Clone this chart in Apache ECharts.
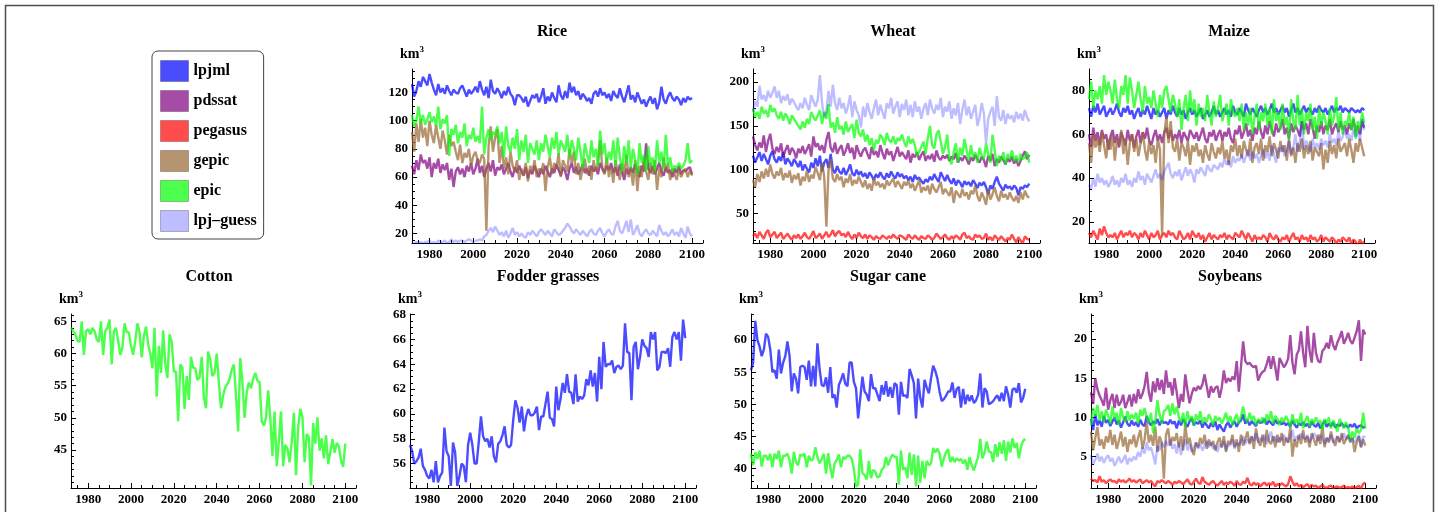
<!DOCTYPE html>
<html>
<head>
<meta charset="utf-8">
<title>Crop water use by model</title>
<script src="https://cdn.jsdelivr.net/npm/echarts@6/dist/echarts.min.js"></script>
<style>
  html, body { margin: 0; padding: 0; background: #fff; }
  #chart { width: 1439px; height: 512px; }
</style>
</head>
<body>
<div id="chart"></div>
<script>
// years run from startYear, one value per year
const startYear = 1972
const xTicks = [1980, 2000, 2020, 2040, 2060, 2080, 2100]

const models = ['lpjml', 'pdssat', 'pegasus', 'gepic', 'epic', 'lpj–guess']
const modelColors = {
  'lpjml': 'rgba(0,0,255,0.7)',
  'pdssat': 'rgba(128,0,128,0.7)',
  'pegasus': 'rgba(255,0,0,0.7)',
  'gepic': 'rgba(153,102,51,0.7)',
  'epic': 'rgba(0,255,0,0.7)',
  'lpj–guess': 'rgba(0,0,255,0.26)',
}

// ---- Rice ----
const riceTicks = [20, 40, 60, 80, 100, 120]
const riceLpjml = [
  126, 117, 121, 128, 124, 131, 128, 125, 133, 127,
  122, 118, 126, 120, 123, 119, 125, 121, 118, 122,
  120, 119, 123, 125, 121, 117, 122, 119, 121, 124,
  120, 128, 122, 118, 124, 116, 129, 121, 119, 123,
  120, 116, 121, 118, 124, 119, 117, 111, 118, 118,
  116, 113, 117, 110, 114, 118, 116, 119, 113, 117,
  123, 112, 117, 114, 120, 116, 113, 125, 118, 115,
  121, 116, 127, 120, 124, 118, 121, 115, 119, 117,
  114, 116, 112, 119, 121, 117, 123, 118, 120, 116,
  119, 114, 121, 118, 116, 123, 117, 113, 119, 125,
  115, 118, 113, 120, 116, 112, 115, 110, 114, 117,
  112, 116, 108, 113, 124, 115, 112, 117, 120, 116,
  114, 117, 115, 111, 116, 113, 117, 115, 116,
]
const ricePdssat = [
  68, 62, 72, 65, 76, 70, 72, 66, 74, 60,
  70, 66, 73, 63, 69, 65, 70, 58, 66, 53,
  64, 67, 62, 66, 60, 68, 64, 70, 62, 66,
  73, 63, 68, 60, 66, 70, 64, 72, 61, 67,
  65, 69, 62, 66, 70, 64, 60, 67, 63, 68,
  64, 61, 67, 59, 65, 62, 68, 64, 60, 66,
  62, 68, 64, 60, 66, 63, 69, 65, 61, 67,
  64, 58, 66, 70, 63, 67, 62, 65, 69, 63,
  66, 61, 68, 64, 67, 62, 70, 66, 63, 68,
  65, 70, 63, 67, 61, 69, 64, 58, 66, 62,
  67, 63, 69, 65, 60, 68, 64, 84, 66, 63,
  68, 62, 66, 70, 64, 61, 67, 63, 65, 60,
  66, 63, 68, 62, 65, 64, 66, 67, 62,
]
const riceGepic = [
  92, 78, 98, 85, 101, 88, 95, 82, 100, 90,
  84, 97, 88, 80, 93, 86, 76, 90, 82, 85,
  78, 72, 83, 70, 77, 74, 80, 68, 75, 78,
  72, 70, 76, 73, 22, 82, 96, 78, 88, 94,
  70, 82, 66, 74, 62, 78, 68, 64, 72, 58,
  66, 62, 70, 57, 68, 64, 72, 60, 66, 63,
  70, 50, 67, 74, 62, 70, 66, 77, 60, 72,
  68, 64, 80, 70, 78, 62, 70, 58, 66, 73,
  62, 68, 58, 72, 64, 70, 86, 66, 62, 74,
  60, 68, 56, 72, 64, 58, 70, 62, 76, 60,
  66, 54, 72, 50, 68, 60, 74, 64, 58, 70,
  62, 72, 51, 66, 60, 74, 64, 70, 58, 66,
  62, 58, 66, 60, 64, 66, 60, 65, 61,
]
const riceEpic = [
  104, 96, 100, 110, 98, 104, 97, 101, 106, 99,
  103, 96, 110, 94, 101, 98, 104, 75, 94, 90,
  97, 84, 92, 88, 98, 82, 90, 87, 95, 85,
  89, 84, 110, 76, 88, 94, 86, 92, 90, 96,
  84, 92, 74, 96, 82, 78, 88, 80, 94, 72,
  86, 78, 90, 70, 84, 80, 76, 86, 72, 84,
  78, 90, 82, 74, 88, 80, 92, 76, 86, 82,
  78, 90, 74, 86, 80, 72, 88, 78, 66, 84,
  76, 70, 86, 74, 80, 68, 93, 76, 84, 70,
  78, 72, 86, 68, 88, 74, 64, 82, 70, 86,
  66, 80, 72, 62, 84, 70, 76, 64, 82, 68,
  74, 64, 86, 70, 78, 66, 90, 68, 74, 64,
  68, 66, 70, 66, 68, 72, 84, 70, 72,
]
const riceLpjGuess = [
  13, 13, 14, 13, 14, 13, 14, 14, 15, 13,
  14, 13, 15, 14, 14, 15, 13, 14, 16, 14,
  15, 14, 15, 15, 14, 15, 16, 15, 14, 15,
  15, 16, 15, 18, 19, 22, 24, 21, 25, 22,
  19, 21, 18, 22, 17, 20, 24, 19, 21, 18,
  20, 18, 17, 21, 19, 22, 20, 18, 21, 23,
  21, 19, 22, 20, 18, 23, 21, 19, 20, 22,
  24, 27, 25, 22, 20, 23, 21, 19, 22, 20,
  18, 21, 23, 20, 19, 22, 24, 20, 18, 21,
  23, 20, 19, 25, 29, 22, 20, 24, 29, 21,
  30, 19, 22, 26, 20, 18, 21, 23, 20, 19,
  22, 20, 18, 26, 22, 19, 21, 18, 20, 23,
  19, 21, 18, 24, 20, 17, 25, 20, 18,
]

// ---- Wheat ----
const wheatTicks = [50, 100, 150, 200]
const wheatLpjml = [
  116, 108, 114, 120, 110, 118, 112, 106, 116, 121,
  112, 108, 115, 110, 120, 106, 113, 109, 104, 112,
  108, 103, 110, 99, 106, 101, 97, 108, 102, 113,
  104, 116, 98, 108, 112, 102, 118, 100, 96, 104,
  98, 95, 102, 94, 99, 106, 96, 93, 100, 94,
  98, 92, 96, 90, 97, 93, 88, 95, 91, 97,
  92, 89, 96, 91, 98, 93, 90, 97, 92, 95,
  90, 93, 88, 92, 86, 94, 89, 91, 87, 84,
  89, 86, 92, 88, 95, 90, 86, 97, 92, 87,
  94, 88, 84, 90, 82, 88, 85, 80, 87, 83,
  86, 81, 88, 84, 79, 85, 82, 86, 80, 72,
  82, 78, 86, 92, 84, 80, 76, 83, 79, 81,
  77, 82, 79, 71, 80, 78, 82, 80, 84,
]
const wheatPdssat = [
  138, 128, 122, 131, 125, 139, 120, 133, 141, 124,
  118, 126, 120, 130, 115, 122, 128, 117, 125, 121,
  113, 124, 119, 127, 118, 123, 129, 115, 138, 126,
  130, 122, 128, 119, 134, 143, 125, 120, 131, 118,
  124, 128, 116, 122, 130, 119, 125, 112, 128, 120,
  115, 122, 125, 118, 112, 126, 117, 121, 114, 128,
  119, 112, 124, 117, 121, 110, 118, 126, 115, 120,
  116, 112, 122, 108, 118, 114, 120, 111, 117, 121,
  110, 116, 112, 118, 109, 122, 114, 111, 116, 113,
  117, 110, 115, 112, 119, 108, 114, 110, 116, 112,
  106, 114, 110, 117, 112, 108, 115, 111, 103, 116,
  110, 118, 104, 112, 108, 115, 111, 106, 113, 109,
  115, 107, 112, 104, 110, 116, 121, 112, 117,
]
const wheatPegasus = [
  24, 27, 22, 29, 25, 21, 28, 31, 23, 26,
  29, 22, 25, 28, 21, 24, 27, 23, 20, 25,
  22, 26, 21, 24, 28, 23, 21, 25, 30, 22,
  24, 27, 21, 25, 29, 23, 26, 31, 24, 28,
  30, 25, 27, 23, 29, 24, 21, 26, 22, 28,
  24, 22, 26, 21, 25, 23, 20, 24, 22, 21,
  25, 23, 21, 24, 22, 26, 23, 21, 25, 24,
  22, 20, 26, 23, 21, 25, 22, 20, 24, 22,
  21, 25, 23, 20, 22, 27, 24, 21, 23, 26,
  22, 20, 24, 21, 25, 23, 20, 26, 28, 22,
  24, 21, 20, 26, 23, 25, 21, 22, 27, 20,
  23, 19, 25, 22, 20, 24, 21, 18, 22, 20,
  26, 21, 17, 23, 19, 16, 24, 21, 20,
]
const wheatGepic = [
  88, 80, 95, 86, 98, 90, 101, 92, 106, 95,
  90, 98, 93, 102, 88, 96, 91, 99, 85, 94,
  89, 96, 82, 92, 87, 99, 86, 94, 90, 103,
  96, 88, 108, 92, 35, 100, 112, 90, 86, 95,
  88, 92, 80, 90, 85, 95, 82, 88, 84, 92,
  86, 80, 88, 78, 84, 76, 90, 82, 86, 80,
  84, 78, 88, 82, 86, 90, 80, 87, 83, 78,
  86, 82, 88, 79, 84, 76, 82, 88, 74, 80,
  76, 82, 72, 84, 78, 74, 80, 86, 72, 78,
  74, 70, 80, 62, 76, 72, 68, 78, 70, 74,
  66, 76, 72, 82, 70, 64, 74, 68, 60, 78,
  66, 72, 80, 70, 64, 76, 68, 72, 66, 74,
  68, 64, 70, 62, 74, 66, 76, 70, 68,
]
const wheatEpic = [
  170, 160, 166, 158, 172, 164, 168, 160, 174, 166,
  170, 162, 158, 166, 156, 164, 160, 152, 162, 158,
  154, 150, 146, 155, 148, 158, 152, 166, 160, 156,
  162, 168, 152, 166, 158, 175, 148, 154, 142, 160,
  146, 150, 140, 155, 143, 148, 152, 136, 157, 142,
  138, 146, 132, 140, 128, 136, 122, 134, 130, 140,
  136, 128, 142, 134, 131, 138, 129, 136, 133, 140,
  132, 126, 138, 130, 135, 128, 116, 120, 126, 132,
  118, 136, 150, 128, 124, 140, 145, 132, 118, 126,
  140, 112, 106, 120, 130, 108, 125, 116, 135, 122,
  110, 128, 114, 120, 108, 125, 116, 112, 130, 118,
  108, 140, 122, 104, 116, 110, 120, 106, 118, 112,
  122, 110, 116, 108, 118, 112, 114, 120, 108,
]
const wheatLpjGuess = [
  166, 178, 172, 196, 180, 185, 178, 190, 182, 188,
  195, 182, 190, 176, 184, 179, 186, 174, 181, 177,
  172, 168, 176, 170, 182, 174, 168, 185, 178, 172,
  180, 208, 176, 160, 166, 190, 172, 197, 176, 168,
  182, 170, 176, 164, 172, 185, 160, 178, 168, 162,
  148, 172, 160, 176, 166, 158, 170, 180, 162, 174,
  166, 158, 176, 170, 182, 164, 172, 178, 160, 175,
  168, 180, 162, 174, 160, 178, 166, 172, 158, 170,
  176, 162, 180, 170, 164, 174, 168, 182, 160, 172,
  166, 178, 158, 170, 162, 176, 152, 168, 180, 162,
  172, 158, 166, 174, 150, 160, 176, 164, 130, 158,
  166, 172, 150, 184, 160, 156, 168, 152, 164, 158,
  162, 154, 166, 158, 164, 156, 168, 160, 155,
]

// ---- Maize ----
const maizeTicks = [20, 40, 60, 80]
const maizeLpjml = [
  72, 68, 73, 70, 74, 69, 71, 73, 68, 70,
  72, 69, 71, 74, 70, 68, 72, 70, 73, 69,
  71, 67, 70, 72, 68, 71, 69, 73, 70, 67,
  72, 69, 71, 68, 70, 72, 67, 71, 69, 73,
  70, 68, 72, 69, 71, 67, 70, 72, 69, 71,
  68, 70, 72, 67, 69, 71, 68, 70, 73, 69,
  71, 68, 70, 72, 69, 71, 68, 73, 70, 69,
  72, 70, 68, 74, 71, 69, 72, 70, 68, 71,
  73, 70, 72, 69, 71, 74, 70, 72, 69, 71,
  73, 70, 72, 68, 71, 74, 70, 72, 69, 71,
  73, 70, 72, 71, 69, 72, 70, 73, 71, 70,
  72, 69, 71, 73, 70, 72, 71, 73, 70, 72,
  71, 70, 72, 71, 70, 71, 70, 72, 71,
]
const maizePdssat = [
  60, 54, 63, 57, 61, 55, 62, 58, 60, 53,
  59, 62, 56, 60, 54, 61, 58, 55, 62, 57,
  60, 54, 59, 62, 56, 61, 58, 63, 57, 55,
  59, 62, 57, 60, 56, 61, 63, 58, 62, 57,
  60, 58, 62, 56, 61, 59, 57, 62, 60, 58,
  61, 57, 60, 63, 58, 56, 61, 59, 62, 57,
  60, 62, 57, 61, 59, 63, 58, 56, 62, 60,
  64, 58, 61, 65, 59, 62, 57, 63, 60, 66,
  61, 58, 64, 60, 66, 62, 59, 65, 61, 63,
  67, 60, 63, 58, 65, 61, 64, 62, 59, 66,
  62, 65, 60, 67, 63, 58, 64, 61, 66, 60,
  64, 62, 67, 60, 63, 65, 61, 66, 62, 64,
  60, 65, 62, 67, 61, 64, 60, 66, 63,
]
const maizePegasus = [
  15, 13, 16, 14, 12, 17, 14, 18, 15, 13,
  14, 13, 15, 12, 14, 16, 13, 15, 14, 16,
  13, 15, 14, 12, 15, 13, 16, 14, 12, 15,
  13, 14, 16, 12, 14, 15, 13, 16, 14, 15,
  13, 12, 16, 14, 12, 13, 15, 12, 16, 14,
  13, 15, 12, 14, 11, 13, 15, 12, 14, 13,
  12, 14, 13, 15, 12, 14, 13, 12, 15, 14,
  13, 16, 14, 12, 15, 13, 11, 14, 12, 13,
  12, 14, 13, 11, 15, 13, 12, 14, 12, 11,
  13, 12, 14, 11, 13, 15, 12, 13, 11, 14,
  12, 13, 11, 14, 12, 13, 11, 12, 14, 11,
  13, 12, 11, 13, 12, 10, 12, 11, 13, 12,
  11, 13, 10, 12, 11, 9, 12, 10, 11,
]
const maizeGepic = [
  56, 47, 60, 54, 58, 52, 61, 55, 49, 58,
  53, 60, 48, 57, 55, 62, 51, 58, 46, 56,
  60, 52, 58, 50, 56, 61, 53, 48, 57, 51,
  55, 47, 58, 53, 14, 60, 68, 56, 66, 54,
  52, 58, 48, 56, 54, 50, 57, 46, 55, 52,
  56, 50, 53, 47, 55, 51, 48, 56, 52, 49,
  54, 51, 57, 49, 53, 46, 55, 52, 58, 50,
  55, 49, 57, 53, 50, 58, 47, 54, 56, 51,
  58, 48, 55, 52, 59, 50, 56, 53, 49, 57,
  52, 55, 48, 58, 50, 54, 47, 56, 52, 58,
  49, 55, 51, 57, 48, 54, 52, 50, 56, 44,
  53, 47, 57, 51, 55, 49, 58, 52, 54, 56,
  50, 58, 53, 47, 56, 52, 58, 54, 50,
]
const maizeEpic = [
  76, 84, 72, 80, 76, 82, 74, 87, 78, 84,
  80, 74, 85, 76, 72, 82, 78, 87, 74, 86,
  80, 72, 78, 84, 76, 70, 82, 74, 77, 72,
  80, 74, 68, 78, 72, 80, 82, 76, 70, 78,
  74, 68, 76, 62, 72, 78, 66, 80, 70, 76,
  64, 74, 68, 72, 66, 78, 70, 64, 75, 68,
  72, 78, 66, 70, 74, 64, 76, 70, 68, 72,
  66, 74, 62, 70, 64, 72, 60, 68, 74, 62,
  70, 66, 74, 64, 72, 60, 76, 66, 70, 62,
  74, 64, 68, 58, 76, 66, 62, 78, 64, 72,
  60, 70, 66, 74, 62, 68, 58, 72, 64, 70,
  66, 60, 72, 64, 68, 77, 62, 70, 60, 66,
  64, 70, 62, 68, 58, 66, 62, 70, 65,
]
const maizeLpjGuess = [
  37, 35, 40, 36, 42, 38, 40, 37, 39, 36,
  38, 41, 37, 39, 36, 40, 38, 42, 37, 39,
  36, 40, 38, 43, 39, 41, 37, 42, 40, 38,
  41, 44, 40, 42, 39, 43, 45, 47, 42, 40,
  43, 41, 44, 39, 42, 45, 41, 44, 42, 38,
  44, 42, 45, 43, 41, 46, 44, 43, 46, 45,
  44, 47, 45, 49, 46, 48, 45, 50, 47, 49,
  48, 51, 47, 50, 53, 48, 52, 49, 51, 47,
  50, 53, 49, 52, 48, 55, 51, 47, 54, 52,
  55, 50, 53, 57, 51, 54, 60, 52, 56, 66,
  53, 57, 55, 52, 58, 54, 56, 53, 58, 55,
  57, 54, 60, 56, 58, 55, 61, 57, 59, 62,
  58, 60, 57, 62, 59, 61, 57, 67, 62,
]

// ---- Cotton ----
const cottonTicks = [45, 50, 55, 60, 65]
const cottonEpic = [
  64.0, 63.5, 63.0, 62.0, 61.8, 65.0, 59.8, 63.5, 63.8, 63.0,
  64.0, 63.5, 62.2, 61.8, 65.0, 59.8, 63.5, 64.0, 65.3, 58.3,
  63.5, 64.0, 62.0, 59.8, 61.0, 64.7, 63.3, 63.3, 61.2, 59.8,
  62.0, 64.7, 63.3, 59.4, 62.7, 64.2, 61.5, 60.0, 57.7, 64.0,
  53.3, 61.2, 57.0, 63.6, 58.4, 56.2, 63.0, 61.8, 57.2, 57.2,
  49.5, 58.3, 57.8, 51.4, 56.5, 52.8, 59.5, 57.8, 57.7, 55.9,
  56.3, 59.5, 53.2, 51.5, 60.3, 59.0, 56.5, 57.0, 60.0, 55.5,
  51.5, 53.5, 54.7, 55.3, 56.0, 57.5, 58.3, 53.5, 47.9, 59.3,
  55.5, 50.0, 54.0, 55.5, 54.6, 56.0, 57.0, 55.8, 55.5, 49.5,
  48.8, 50.0, 54.3, 50.0, 44.1, 51.0, 42.5, 46.4, 51.0, 42.5,
  45.8, 45.2, 43.1, 46.2, 50.8, 41.1, 48.5, 51.4, 50.2, 43.1,
  47.5, 47.0, 39.5, 49.2, 46.0, 50.1, 44.9, 46.8, 43.7, 47.3,
  42.8, 44.7, 46.7, 44.6, 46.1, 45.6, 43.4, 42.4, 46.0,
]

// ---- Fodder grasses ----
const fodderTicks = [56, 58, 60, 62, 64, 66, 68]
const fodderLpjml = [
  57.5, 57.0, 56.0, 56.2, 56.5, 57.2, 55.8, 55.5, 55.0, 54.8,
  55.5, 54.5, 56.2, 54.5, 55.0, 55.3, 58.9, 57.0, 56.6, 54.2,
  57.7, 56.9, 54.2, 55.0, 56.0, 55.8, 54.5, 57.5, 58.5, 57.5,
  56.0, 56.0, 57.8, 59.8, 58.2, 57.8, 58.0, 57.3, 58.2, 56.6,
  56.1, 57.6, 57.8, 58.3, 59.0, 57.5, 57.3, 57.5, 59.5, 61.1,
  60.5, 59.3, 60.6, 58.6, 59.8, 60.4, 59.9, 59.9, 60.1, 60.6,
  58.7, 59.8, 59.8, 60.8, 61.8, 59.7, 59.6, 59.0, 62.2, 60.3,
  61.2, 62.5, 61.7, 63.2, 61.8, 61.7, 60.8, 63.2, 61.0, 61.4,
  61.2, 61.5, 62.8, 62.3, 63.5, 62.2, 63.3, 61.0, 64.6, 62.0,
  65.8, 63.8, 64.0, 64.0, 64.3, 63.3, 63.8, 63.9, 63.6, 63.9,
  67.3, 65.0, 64.9, 61.1, 65.4, 65.8, 63.6, 64.6, 66.0, 65.5,
  65.3, 64.6, 66.6, 66.0, 66.6, 63.5, 63.8, 65.0, 65.0, 64.9,
  65.3, 63.8, 66.2, 66.6, 66.0, 66.6, 64.3, 67.6, 66.1,
]

// ---- Sugar cane ----
const sugarTicks = [40, 45, 50, 55, 60]
const sugarLpjml = [
  55.3, 56.5, 63.0, 60.0, 59.0, 57.5, 58.5, 61.0, 60.5, 58.5,
  55.0, 55.3, 54.0, 58.5, 54.8, 56.5, 57.5, 59.8, 57.5, 52.0,
  54.8, 54.0, 51.7, 55.8, 56.0, 55.8, 53.8, 56.8, 52.8, 56.0,
  52.8, 59.5, 55.5, 53.0, 52.8, 54.2, 51.8, 55.8, 51.0, 51.5,
  49.5, 53.0, 53.8, 54.8, 53.2, 52.8, 56.5, 56.5, 53.5, 52.5,
  47.8, 51.0, 54.3, 52.0, 51.5, 50.5, 54.7, 52.5, 52.5, 51.5,
  50.5, 53.0, 51.5, 53.6, 51.2, 52.7, 51.0, 53.3, 53.0, 48.4,
  53.5, 51.3, 51.4, 51.0, 55.5, 54.5, 53.3, 47.8, 54.0, 51.0,
  49.5, 53.8, 52.6, 51.7, 54.0, 56.0, 55.2, 54.0, 52.0, 50.5,
  50.8, 51.3, 52.0, 52.0, 53.4, 51.0, 52.4, 52.7, 49.5, 52.4,
  50.0, 51.5, 50.5, 51.4, 50.2, 50.6, 51.5, 54.8, 49.5, 52.5,
  52.0, 50.0, 50.2, 50.5, 51.0, 51.4, 50.5, 51.8, 50.5, 52.8,
  51.5, 49.5, 52.3, 52.5, 51.8, 53.3, 50.3, 51.0, 52.4,
]
const sugarEpic = [
  42.3, 40.5, 42.5, 41.5, 42.8, 40.3, 42.0, 42.0, 41.3, 42.3,
  40.2, 42.3, 41.5, 42.8, 40.2, 42.0, 42.0, 42.3, 41.3, 39.2,
  42.6, 41.0, 40.5, 42.2, 42.0, 42.3, 40.2, 42.0, 41.2, 41.5,
  43.3, 41.8, 40.8, 41.5, 42.3, 39.2, 42.4, 40.2, 38.5, 40.8,
  41.3, 42.2, 40.2, 41.8, 41.5, 42.0, 42.0, 41.5, 40.0, 37.2,
  37.5, 43.0, 39.3, 39.0, 38.3, 41.2, 38.5, 39.8, 39.5, 38.6,
  38.8, 39.8, 40.2, 41.8, 40.5, 41.5, 42.2, 41.8, 41.8, 37.5,
  42.8, 39.8, 40.2, 38.5, 42.5, 39.0, 42.2, 37.2, 42.0, 37.8,
  41.2, 38.5, 41.2, 40.5, 40.8, 43.2, 42.5, 43.1, 42.3, 40.3,
  41.6, 42.5, 43.0, 41.0, 41.8, 41.0, 41.6, 41.2, 41.5, 40.8,
  41.4, 39.8, 41.8, 40.5, 39.7, 40.8, 41.8, 44.6, 41.6, 42.5,
  44.2, 42.6, 42.6, 41.0, 43.8, 41.8, 44.1, 42.3, 44.4, 41.2,
  44.2, 42.5, 44.7, 43.2, 44.0, 41.6, 43.4, 44.3, 44.6,
]

// ---- Soybeans ----
const soyTicks = [5, 10, 15, 20]
const soyLpjml = [
  9.8, 8.4, 10.4, 9.0, 9.6, 8.8, 10.2, 9.3, 9.7, 8.9,
  9.5, 10.0, 9.1, 9.6, 8.7, 9.4, 10.1, 9.2, 8.9, 9.6,
  9.0, 9.4, 8.8, 9.7, 9.1, 8.9, 10.2, 9.4, 9.0, 9.5,
  9.2, 9.8, 9.0, 9.6, 9.3, 9.4, 9.1, 9.7, 9.2, 9.5,
  8.6, 9.6, 9.0, 9.8, 9.3, 8.8, 9.5, 9.9, 9.0, 9.4,
  9.2, 9.6, 8.7, 9.4, 9.0, 8.6, 9.3, 8.8, 9.5, 8.4,
  9.1, 8.6, 8.2, 9.0, 9.4, 8.7, 9.2, 9.5, 8.8, 9.4,
  9.6, 10.4, 9.2, 9.7, 9.0, 9.5, 9.2, 8.9, 9.6, 9.3,
  9.4, 9.8, 9.1, 9.6, 9.3, 9.0, 9.7, 9.2, 9.5, 9.1,
  9.4, 9.0, 9.3, 8.8, 9.6, 9.1, 8.7, 9.3, 9.0, 9.4,
  8.9, 9.2, 8.7, 9.5, 9.0, 8.8, 9.3, 8.6, 9.1, 9.6,
  8.8, 9.2, 8.9, 9.4, 8.7, 9.1, 8.9, 9.3, 8.8, 9.0,
  8.7, 9.1, 8.8, 9.2, 8.6, 8.9, 9.0, 8.7, 8.8,
]
const soyPdssat = [
  13.2, 11.7, 15.0, 13.6, 12.8, 12.2, 11.5, 13.8, 11.0, 12.2,
  13.0, 11.2, 12.9, 11.5, 12.0, 12.9, 11.2, 12.0, 12.9, 11.4,
  13.0, 11.8, 13.6, 12.4, 13.0, 14.0, 15.8, 13.2, 12.0, 14.6,
  13.2, 15.0, 13.5, 14.8, 13.0, 16.0, 13.8, 14.5, 12.8, 15.0,
  13.2, 11.2, 13.0, 12.0, 15.5, 13.5, 11.8, 13.0, 13.8, 13.4,
  14.0, 13.6, 14.2, 15.5, 14.0, 12.5, 14.0, 13.2, 13.8, 14.0,
  12.5, 13.8, 16.0, 14.4, 15.0, 14.6, 15.2, 14.8, 17.2, 13.3,
  16.5, 19.7, 17.2, 16.8, 17.0, 16.6, 16.4, 16.6, 14.7, 15.4,
  15.8, 16.0, 16.8, 17.8, 16.2, 17.8, 16.4, 14.7, 17.6, 17.0,
  16.4, 16.8, 17.5, 20.5, 17.0, 15.5, 18.0, 18.6, 21.0, 18.2,
  16.4, 21.7, 18.5, 17.0, 20.8, 18.2, 17.2, 17.0, 18.5, 18.8,
  19.5, 18.8, 20.5, 19.2, 18.6, 19.6, 20.2, 21.0, 19.4, 20.0,
  20.8, 19.8, 19.4, 20.2, 21.0, 22.4, 17.2, 21.2, 20.6,
]
const soyPegasus = [
  2.2, 1.9, 2.0, 1.7, 2.5, 1.8, 2.0, 1.6, 1.9, 2.1,
  1.8, 1.9, 1.6, 2.1, 1.8, 2.0, 1.7, 1.9, 2.2, 1.8,
  2.0, 1.7, 1.9, 2.1, 1.6, 1.8, 2.0, 1.7, 1.9, 1.5,
  1.2, 1.9, 1.7, 2.0, 1.8, 1.6, 1.9, 1.7, 1.4, 1.8,
  1.6, 1.9, 1.7, 1.5, 1.8, 2.1, 1.6, 1.4, 1.8, 2.2,
  1.7, 1.5, 2.4, 1.8, 1.6, 1.4, 1.7, 1.9, 1.5, 1.3,
  1.6, 1.9, 1.4, 1.7, 1.5, 1.8, 1.6, 1.3, 1.9, 1.5,
  1.4, 1.8, 1.6, 2.3, 1.5, 1.3, 1.7, 1.4, 1.6, 1.2,
  1.5, 1.7, 1.3, 1.6, 1.4, 1.8, 1.2, 1.5, 1.3, 1.6,
  1.4, 1.2, 1.5, 2.5, 1.8, 1.3, 1.6, 1.2, 1.4, 1.1,
  1.3, 1.5, 1.1, 1.4, 1.2, 1.3, 1.0, 1.2, 1.4, 1.1,
  1.0, 1.2, 1.3, 1.0, 1.1, 1.2, 1.0, 1.1, 1.3, 1.0,
  1.1, 1.0, 1.2, 1.0, 1.1, 1.3, 0.9, 1.5, 1.7,
]
const soyGepic = [
  8.2, 5.8, 7.4, 8.8, 6.4, 7.2, 6.0, 7.6, 6.8, 8.4,
  6.5, 7.8, 6.0, 7.0, 8.2, 6.3, 7.5, 5.6, 7.2, 6.6,
  7.8, 6.2, 7.4, 8.4, 6.0, 7.2, 9.5, 6.8, 7.8, 6.4,
  8.8, 5.6, 7.6, 6.8, 2.2, 7.8, 8.6, 6.4, 7.5, 7.0,
  8.0, 6.2, 7.6, 5.8, 9.2, 6.6, 7.4, 6.0, 5.2, 6.8,
  6.2, 7.4, 6.6, 7.8, 6.0, 7.2, 6.4, 7.0, 5.8, 6.8,
  7.4, 6.2, 7.6, 5.6, 7.0, 6.6, 7.8, 6.2, 7.2, 5.6,
  7.8, 6.4, 7.2, 8.2, 6.6, 7.6, 6.0, 8.6, 7.0, 6.4,
  7.8, 6.2, 8.4, 7.0, 6.6, 7.6, 6.2, 7.8, 6.8, 8.0,
  6.4, 7.4, 6.8, 8.8, 5.0, 7.2, 6.2, 7.8, 6.6, 8.4,
  6.8, 7.6, 6.2, 8.0, 7.2, 6.4, 7.8, 6.6, 9.0, 6.2,
  7.4, 6.8, 8.2, 7.0, 6.4, 7.6, 6.8, 8.0, 6.6, 7.2,
  7.8, 6.8, 7.4, 5.6, 6.8, 7.6, 6.2, 7.2, 6.4,
]
const soyEpic = [
  9.0, 11.2, 10.2, 11.6, 9.6, 10.8, 9.4, 11.0, 10.2, 9.2,
  11.4, 9.8, 10.6, 9.0, 11.2, 10.0, 9.4, 10.8, 9.6, 10.4,
  9.8, 10.6, 9.2, 11.0, 10.2, 11.2, 10.0, 9.4, 10.6, 8.0,
  9.6, 12.2, 10.4, 9.2, 10.8, 11.0, 11.6, 10.2, 11.8, 10.4,
  11.4, 10.0, 9.4, 10.6, 8.8, 10.8, 9.6, 10.2, 9.0, 10.4,
  9.6, 10.8, 9.2, 10.0, 9.4, 10.4, 9.8, 9.0, 10.2, 9.6,
  10.0, 9.2, 9.8, 10.6, 9.4, 10.2, 9.0, 9.8, 10.4, 9.2,
  10.2, 11.4, 10.0, 9.4, 10.6, 9.6, 10.2, 9.0, 9.8, 9.4,
  10.0, 9.2, 10.4, 9.6, 10.8, 9.2, 10.2, 9.8, 9.0, 10.0,
  9.4, 10.2, 9.6, 8.8, 10.4, 9.2, 9.8, 9.0, 10.6, 8.6,
  9.6, 10.2, 8.8, 9.8, 9.2, 10.0, 9.4, 9.6, 8.4, 9.8,
  9.2, 10.0, 8.6, 9.6, 9.0, 8.2, 9.8, 9.2, 8.6, 9.4,
  8.8, 7.0, 8.2, 7.4, 8.6, 8.0, 8.4, 10.6, 8.6,
]
const soyLpjGuess = [
  5.2, 4.0, 4.6, 5.4, 4.4, 5.0, 4.2, 4.8, 5.2, 4.4,
  4.8, 3.8, 4.4, 5.0, 4.2, 4.6, 5.2, 4.0, 4.8, 4.4,
  5.0, 4.6, 5.6, 5.0, 6.2, 5.4, 6.8, 5.8, 6.2, 5.2,
  4.0, 6.4, 5.8, 6.8, 6.2, 7.0, 6.4, 7.2, 6.0, 6.6,
  5.4, 6.8, 5.2, 6.4, 7.2, 5.8, 6.6, 5.6, 6.2, 6.8,
  6.0, 6.6, 5.8, 6.4, 7.0, 6.2, 6.8, 6.0, 6.4, 5.6,
  6.6, 6.2, 7.0, 5.8, 6.6, 6.4, 7.2, 6.0, 6.8, 6.4,
  7.0, 7.6, 6.6, 7.2, 6.8, 7.6, 7.0, 8.0, 6.8, 7.4,
  7.0, 7.8, 6.6, 7.4, 8.2, 7.0, 7.6, 6.8, 7.4, 7.0,
  7.8, 7.2, 6.8, 7.6, 8.4, 7.0, 7.6, 7.2, 8.0, 7.4,
  7.2, 7.8, 6.8, 7.4, 8.0, 7.6, 7.0, 7.8, 7.2, 6.6,
  7.4, 7.0, 7.8, 6.8, 7.2, 7.6, 7.0, 7.4, 8.0, 7.2,
  7.6, 7.0, 7.4, 6.8, 7.2, 7.8, 6.2, 7.6, 7.4,
]

// panel layout: grid box in pixels, y range, tick sets
const panels = [
  { title: 'Rice', tx: 552, ty: 32, left: 412, top: 69, width: 291,
    yMin: 13.3, yMax: 136.6, ticks: riceTicks, minor: 5,
    series: [['lpjml', riceLpjml], ['pdssat', ricePdssat], ['gepic', riceGepic], ['epic', riceEpic], ['lpj–guess', riceLpjGuess]] },
  { title: 'Wheat', tx: 893, ty: 32, left: 753, top: 69, width: 287,
    yMin: 16.3, yMax: 214.9, ticks: wheatTicks, minor: 10,
    series: [['lpjml', wheatLpjml], ['pdssat', wheatPdssat], ['pegasus', wheatPegasus], ['gepic', wheatGepic], ['epic', wheatEpic], ['lpj–guess', wheatLpjGuess]] },
  { title: 'Maize', tx: 1229, ty: 32, left: 1089, top: 69, width: 286,
    yMin: 10.4, yMax: 89.8, ticks: maizeTicks, minor: 5,
    series: [['lpjml', maizeLpjml], ['pdssat', maizePdssat], ['pegasus', maizePegasus], ['gepic', maizeGepic], ['epic', maizeEpic], ['lpj–guess', maizeLpjGuess]] },
  { title: 'Cotton', tx: 209, ty: 277, left: 71, top: 314, width: 285,
    yMin: 39.1, yMax: 66.15, ticks: cottonTicks, minor: 1,
    series: [['epic', cottonEpic]] },
  { title: 'Fodder grasses', tx: 548, ty: 277, left: 410, top: 314, width: 286,
    yMin: 54.04, yMax: 68.05, ticks: fodderTicks, minor: 0.5,
    series: [['lpjml', fodderLpjml]] },
  { title: 'Sugar cane', tx: 888, ty: 277, left: 751, top: 314, width: 285,
    yMin: 36.97, yMax: 64.06, ticks: sugarTicks, minor: 1,
    series: [['lpjml', sugarLpjml], ['epic', sugarEpic]] },
  { title: 'Soybeans', tx: 1230, ty: 277, left: 1091, top: 314, width: 285,
    yMin: 1.0, yMax: 23.2, ticks: soyTicks, minor: 1,
    series: [['lpjml', soyLpjml], ['pdssat', soyPdssat], ['pegasus', soyPegasus], ['gepic', soyGepic], ['epic', soyEpic], ['lpj–guess', soyLpjGuess]] },
]

const xMin = 1972
const xMax = 2105
const plotHeight = 174
const labelFont = { fontFamily: 'Liberation Serif', fontWeight: 'bold', fontSize: 13, color: '#000' }

function stepsBetween(lo, hi, step) {
  const out = []
  const first = Math.ceil(lo / step - 1e-9) * step
  for (let v = first; v <= hi + 1e-9; v += step) out.push(+v.toFixed(4))
  return out
}

const chart = echarts.init(document.getElementById('chart'))

const grids = []
const xAxes = []
const yAxes = []
const series = []
const graphics = [
  { type: 'rect', shape: { x: 5.5, y: 5.5, width: 1428, height: 530 },
    style: { fill: 'none', stroke: '#4d4d4d', lineWidth: 1.5 }, silent: true },
]

panels.forEach((p, i) => {
  grids.push({ left: p.left, top: p.top, width: p.width, height: plotHeight, outerBoundsMode: 'none' })

  // major x axis
  xAxes.push({
    gridIndex: i, type: 'value', min: xMin, max: xMax, position: 'bottom',
    axisLine: { onZero: false, lineStyle: { color: '#000', width: 1 } },
    axisTick: { inside: true, length: 5, customValues: xTicks, lineStyle: { color: '#000' } },
    axisLabel: { customValues: xTicks, margin: 5, formatter: (v) => String(v), ...labelFont },
    splitLine: { show: false },
  })
  // minor x ticks
  xAxes.push({
    gridIndex: i, type: 'value', min: xMin, max: xMax, position: 'bottom',
    axisLine: { show: false },
    axisTick: { inside: true, length: 3, customValues: stepsBetween(xMin, xMax, 5), lineStyle: { color: '#000' } },
    axisLabel: { show: false }, splitLine: { show: false },
  })
  // major y axis
  yAxes.push({
    gridIndex: i, type: 'value', min: p.yMin, max: p.yMax, position: 'left',
    name: '{u|km}{s|3}', nameLocation: 'end', nameGap: 8,
    nameTextStyle: {
      align: 'center',
      rich: {
        u: { fontFamily: 'Liberation Serif', fontWeight: 'bold', fontSize: 14, color: '#000', lineHeight: 16, verticalAlign: 'bottom' },
        s: { fontFamily: 'Liberation Serif', fontWeight: 'bold', fontSize: 9, color: '#000', lineHeight: 16, verticalAlign: 'top' },
      },
    },
    axisLine: { show: true, onZero: false, lineStyle: { color: '#000', width: 1 } },
    axisTick: { show: true, inside: true, length: 5, customValues: p.ticks, lineStyle: { color: '#000' } },
    axisLabel: { customValues: p.ticks, margin: 4, ...labelFont },
    splitLine: { show: false },
  })
  // minor y ticks
  yAxes.push({
    gridIndex: i, type: 'value', min: p.yMin, max: p.yMax, position: 'left',
    axisLine: { show: false },
    axisTick: { show: true, inside: true, length: 3, customValues: stepsBetween(p.yMin, p.yMax, p.minor), lineStyle: { color: '#000' } },
    axisLabel: { show: false }, splitLine: { show: false },
  })

  p.series.forEach(([model, values]) => {
    const color = modelColors[model]
    series.push({
      type: 'line', name: model,
      xAxisIndex: 2 * i, yAxisIndex: 2 * i,
      data: values.map((v, k) => [startYear + k, v]),
      showSymbol: false, symbol: 'none', clip: true,
      color: color,
      itemStyle: { color: color },
      lineStyle: { color: color, width: 2.4 },
      emphasis: { disabled: true },
    })
  })

  graphics.push({
    type: 'text', x: p.tx, y: p.ty, silent: true,
    style: { text: p.title, font: 'bold 16px "Liberation Serif"', fill: '#000',
      align: 'center', verticalAlign: 'middle', textAlign: 'center', textVerticalAlign: 'middle' },
  })
})

const option = {
  animation: false,
  backgroundColor: '#fff',
  legend: {
    data: models,
    orient: 'vertical',
    left: 152, top: 51,
    padding: [9, 7, 7, 8],
    itemWidth: 28, itemHeight: 21, itemGap: 8,
    icon: 'rect',
    itemStyle: { borderColor: 'rgba(0,0,0,0.25)', borderWidth: 1 },
    borderColor: '#444', borderWidth: 1, borderRadius: 6,
    textStyle: { fontFamily: 'Liberation Serif', fontWeight: 'bold', fontSize: 16, color: '#000' },
    selectedMode: false,
  },
  grid: grids,
  xAxis: xAxes,
  yAxis: yAxes,
  series: series,
  graphic: graphics,
}

chart.setOption(option)
</script>
</body>
</html>
